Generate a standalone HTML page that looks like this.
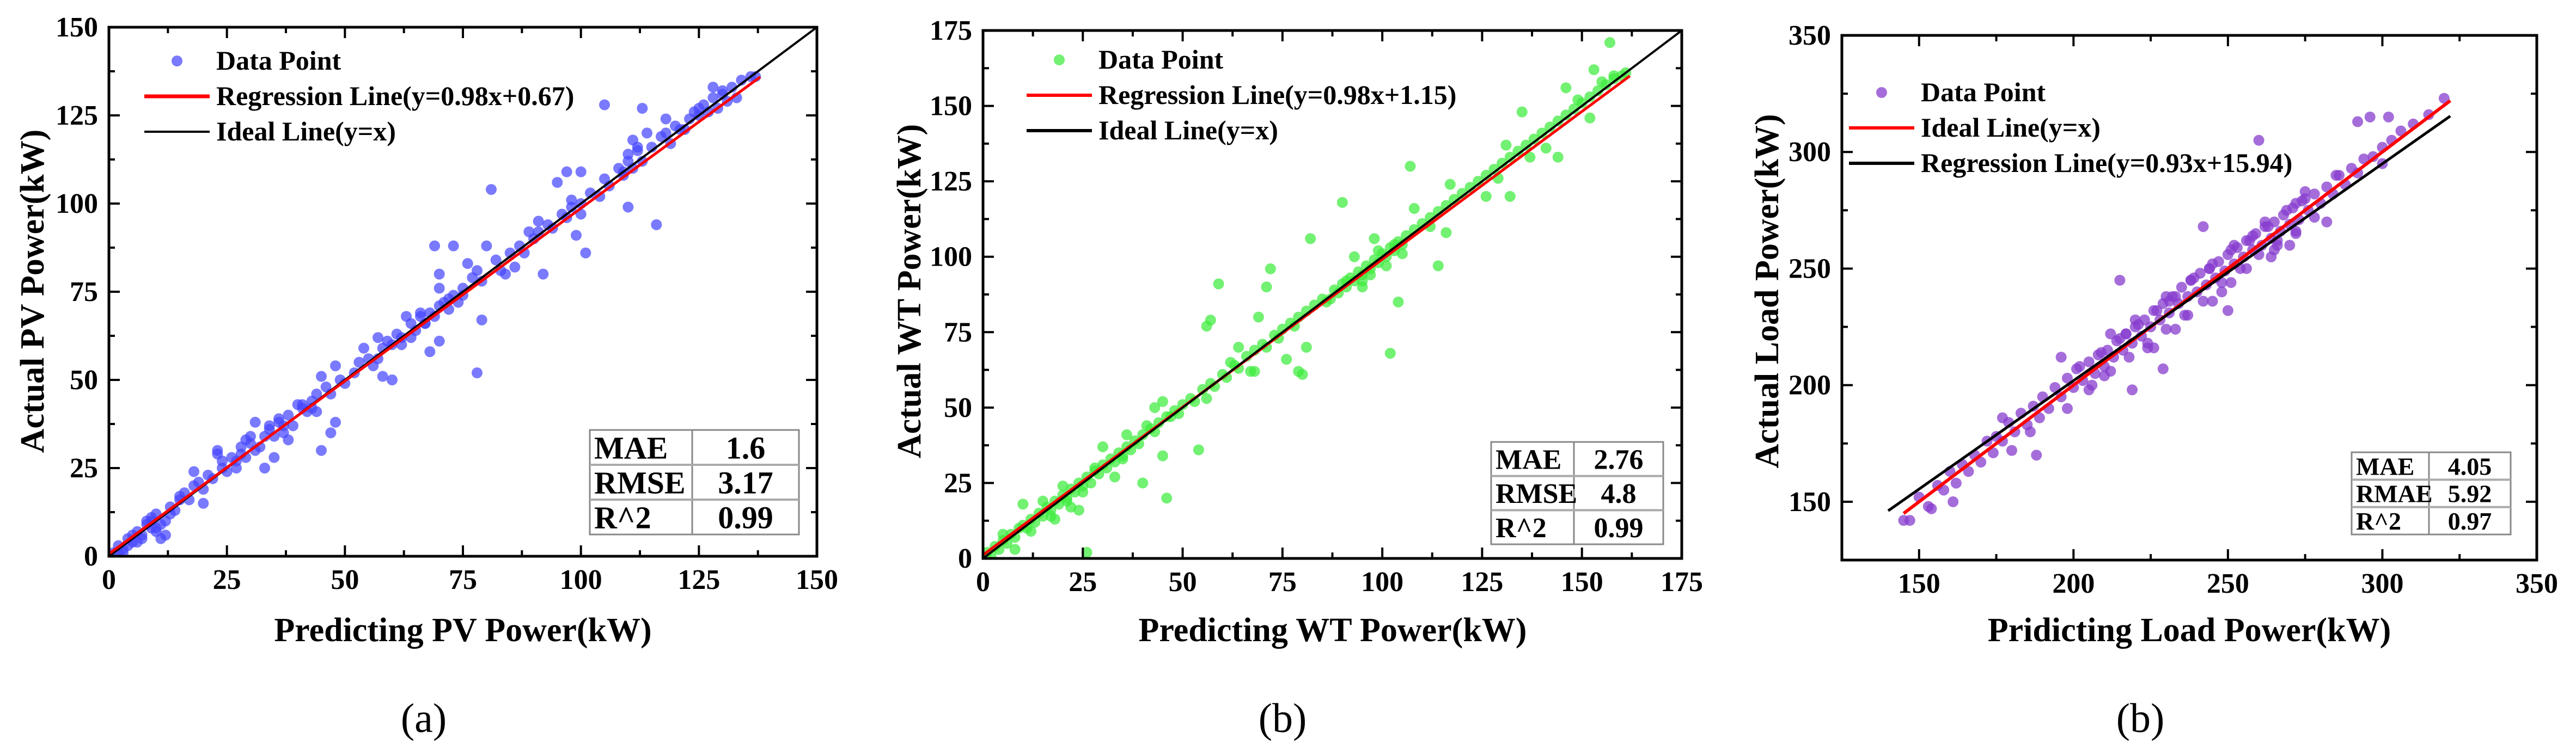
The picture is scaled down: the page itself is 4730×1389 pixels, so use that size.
<!DOCTYPE html>
<html><head><meta charset="utf-8"><style>
html,body{margin:0;padding:0;background:#fff;}
svg{display:block;font-family:"Liberation Serif","Times New Roman",serif;}
svg text{font-family:"Liberation Serif","Times New Roman",serif;}
</style></head><body>
<svg id="fig" width="4730" height="1389" viewBox="0 0 4730 1389" xmlns="http://www.w3.org/2000/svg" font-family="Liberation Serif, serif"></svg>
<script>
// ---------- data ----------
const aX=[1,2,3,4,5,6,7,8,9,10,11,12,11,9,13,14,15,16,17,19,20,21,22,24,25,26,27,28,29,30,31,32,33,34,35,36,37,38,39,40,41,42,43,44,46,47,49,50,52,53,55,56,58,59,60,61,62,64,65,66,67,68,69,71,72,73,74,75,77,78,79,82,83,85,87,88,90,91,93,94,96,97,98,100,102,104,105,106,108,109,110,111,112,113,115,117,118,119,120,122,123,124,125,126,127,128,129,130,131,132,134,136,137,
45,47,48,58,60,68,70,78,79,69,70,70,73,80,81,76,92,97,100,95,99,101,100,98,110,116,113,105,111,114,118,20,18,23,31,35,33,48,45,54,57,63,84,86,89,91,3,6,8,10,12,15,24,27,29,36,38,41,44,64,66,72,75,110,112,128,130,
2,4,5,7,9,10,13,18,23,28,30,34,37,43,57,62,67,70,109,121,125,133];
const aY=[1,3,2,5,4,7,6,9,8,12,9,6,5,11,14,13,16,18,16,21,19,23,22,25,24,28,27,31,28,32,30,31,34,36,34,38,35,40,37,43,42,41,44,46,48,46,50,49,52,55,56,54,59,61,60,63,62,66,64,68,66,69,68,72,70,74,72,76,79,81,78,84,81,86,88,86,90,92,94,93,97,96,101,100,103,102,107,105,110,108,112,110,115,112,116,119,120,117,122,121,124,126,125,128,126,130,127,132,129,133,135,136,136,
30,35,38,51,50,58,61,52,67,88,80,76,88,88,104,83,80,109,109,106,91,86,97,99,99,94,127,128,118,120,124,15,24,30,38,28,25,54,51,59,62,68,80,82,92,95,1,4,10,8,10,17,27,25,33,39,33,43,41,62,69,73,74,114,116,133,131,
1,3,6,5,10,7,12,20,29,29,34,37,37,42,56,60,66,71,109,121,127,130];
const bX=[1,2,3,4,5,6,7,8,9,10,11,12,13,14,15,16,17,18,19,20,21,22,23,24,25,26,28,29,30,31,32,33,34,35,36,37,38,39,40,42,43,44,46,48,49,50,52,53,55,57,58,60,61,63,64,66,68,70,71,73,74,75,77,78,79,81,83,85,86,88,89,90,91,92,93,94,95,96,97,98,99,100,101,102,103,104,105,106,108,110,112,114,116,118,120,122,124,126,128,130,132,134,136,138,140,142,144,146,148,150,152,154,156,158,160,161,
26,46,40,54,45,59,57,56,72,71,79,80,82,90,81,102,104,114,107,108,116,132,144,135,157,153,146,152,22,10,43,45,5,8,15,18,20,24,27,30,33,36,64,67,69,76,98,95,93,97,112,117,126,131,141,149,
12,17,21,25,28,35,41,47,56,62,68,87,91,95,99,101,103,105,129,137,155,158];
const bY=[2,1,4,3,6,5,8,7,10,11,10,13,12,15,14,17,16,19,18,21,20,23,22,25,24,27,29,28,31,30,33,32,35,34,37,36,39,38,41,43,42,45,47,49,48,51,53,52,56,58,57,61,60,64,63,67,69,71,70,74,73,76,78,77,80,82,84,86,85,89,88,91,90,93,92,95,94,97,96,99,98,101,100,103,102,105,104,107,109,111,113,115,117,119,121,123,125,127,129,131,133,135,137,139,141,143,145,147,149,151,153,155,157,159,160,161,
2,20,25,36,34,91,79,77,96,90,62,61,106,118,70,68,85,97,130,116,108,120,133,148,171,162,156,146,17,18,50,52,8,3,19,13,24,16,25,37,27,41,70,62,80,66,106,92,100,94,110,124,120,137,136,152,
9,14,19,22,30,33,44,47,53,65,62,86,92,90,102,97,104,101,126,133,158,160];
const cX=[145,150,153,156,158,160,162,164,166,168,170,172,174,175,177,179,181,183,185,187,189,190,192,194,196,198,200,201,203,205,207,208,210,211,213,214,216,217,219,220,222,223,225,226,228,229,231,232,234,235,237,238,240,241,243,244,246,247,249,250,252,253,255,256,258,259,261,262,264,265,267,268,270,271,273,274,276,278,280,282,284,286,288,290,292,294,297,300,303,306,310,315,320,
215,242,260,250,229,219,188,161,154,147,296,302,292,282,270,220,196,177,205,212,233,238,245,252,256,262,266,272,180,186,198,226,230,248,264,275,285,300,
202,206,209,212,215,218,221,224,227,230,233,236,239,242,245,248,251,254,257,260,263,266,269,272,275,278,210,217,224,231,237,244,251,258,265,272];
const cY=[142,152,148,157,155,163,158,166,163,170,167,176,171,178,176,184,180,188,183,191,186,195,190,199,195,203,199,207,202,210,205,213,208,215,212,219,215,222,218,225,221,228,225,232,228,235,231,238,235,242,238,245,240,248,243,250,246,253,249,256,252,259,255,262,258,265,260,268,263,270,266,273,269,276,271,279,275,282,278,285,282,290,286,293,291,297,298,302,305,309,312,316,323,
245,268,305,232,207,198,170,150,147,142,315,315,313,270,260,228,212,186,198,222,224,245,236,260,250,270,262,265,172,180,190,216,238,240,255,283,290,295,
208,200,214,206,220,212,226,218,232,224,238,230,246,236,252,244,258,250,262,256,268,260,275,266,280,272,204,222,216,236,230,250,244,264,258,278];
const aTicks=[0,25,50,75,100,125,150];
const bTicks=[0,25,50,75,100,125,150,175];
const cTicks=[150,200,250,300,350];
const aStats=[["MAE","1.6"],["RMSE","3.17"],["R^2","0.99"]];
const bStats=[["MAE","2.76"],["RMSE","4.8"],["R^2","0.99"]];
const cStats=[["MAE","4.05"],["RMAE","5.92"],["R^2","0.97"]];

const NS="http://www.w3.org/2000/svg";
const svg=document.getElementById('fig');
const FF='"Liberation Serif", "Times New Roman", serif';
function mk(tag,attrs,parent){const e=document.createElementNS(NS,tag);for(const k in attrs)e.setAttribute(k,attrs[k]);if(tag==='text')e.style.fontFamily=FF;(parent||svg).appendChild(e);return e;}

function panel(p){
  const g=mk('g',{});
  
  
  const sx=v=>p.L+(v-p.min)/(p.max-p.min)*(p.R-p.L);
  const sy=v=>p.B-(v-p.min)/(p.max-p.min)*(p.B-p.T);
  const clip=mk('clipPath',{id:'clip-'+p.name},g);
  mk('rect',{x:p.L,y:p.T,width:p.R-p.L,height:p.B-p.T},clip);
  const pts=mk('g',{'clip-path':'url(#clip-'+p.name+')'},g);
  
  
  for(let i=0;i<p.xs.length;i++){
    const c=mk('circle',{cx:sx(p.xs[i]),cy:sy(p.ys[i]),r:10,fill:p.color},pts);
    
    
  }
  const lines=mk('g',{'clip-path':'url(#clip-'+p.name+')'},g);
  for(const ln of p.lines){
    const l=mk('line',{x1:sx(ln.x0),y1:sy(ln.m*ln.x0+ln.b),x2:sx(ln.x1),y2:sy(ln.m*ln.x1+ln.b),stroke:ln.col,'stroke-width':ln.w},lines);
    
    
  }
  const fr=mk('rect',{x:p.L,y:p.T,width:p.R-p.L,height:p.B-p.T,fill:'none',stroke:'#000','stroke-width':5},g);
  
  
  const step=p.ticks[1]-p.ticks[0];
  for(let v=p.min;v<=p.max+0.01;v+=step/2){
    const major=p.ticks.some(t=>Math.abs(t-v)<0.01);
    const len=major?20:11;
    const X=sx(v),Y=sy(v);
    mk('line',{x1:X,y1:p.B,x2:X,y2:p.B-len,stroke:'#000','stroke-width':4},g);
    mk('line',{x1:X,y1:p.T,x2:X,y2:p.T+len,stroke:'#000','stroke-width':4},g);
    mk('line',{x1:p.L,y1:Y,x2:p.L+len,y2:Y,stroke:'#000','stroke-width':4},g);
    mk('line',{x1:p.R,y1:Y,x2:p.R-len,y2:Y,stroke:'#000','stroke-width':4},g);
  }
  for(const t of p.ticks){
    const xt=mk('text',{x:sx(t),y:p.B+60,'font-size':52,'font-weight':'bold','text-anchor':'middle'},g);
    xt.textContent=t;
    
    
    const yt=mk('text',{x:p.L-20,y:sy(t)+17,'font-size':52,'font-weight':'bold','text-anchor':'end'},g);
    yt.textContent=t;
    
    
  }
  const xtl=mk('text',{x:p.xtx,y:1178,'font-size':62,'font-weight':'bold','text-anchor':'middle'},g);
  xtl.textContent=p.xtitle;
  
  
  const ytl=mk('text',{x:0,y:0,'font-size':62,'font-weight':'bold','text-anchor':'middle',transform:'translate('+(p.ytx+20)+',535) rotate(-90)'},g);
  ytl.textContent=p.ytitle;
  
  
  const cap=mk('text',{x:p.capx,y:1345,'font-size':76,'text-anchor':'middle'},g);
  cap.textContent=p.cap;
  
  
  const lg=mk('g',{},g);
  
  
  p.legend.forEach((e,i)=>{
    const y=p.legY+i*65;
    if(e.t==='dot') mk('circle',{cx:p.legX+60,cy:y,r:10,fill:p.color},lg);
    else mk('line',{x1:p.legX,y1:y,x2:p.legX+120,y2:y,stroke:e.col,'stroke-width':e.w},lg);
    const tx=mk('text',{x:p.legX+132,y:y+16,'font-size':50,'font-weight':'bold'},lg);
    tx.textContent=e.label;
    
    
  });
  const tb=mk('g',{},g);
  
  
  const tw=p.tab.x2-p.tab.x1, th=p.tab.y2-p.tab.y1, rh=th/3;
  mk('rect',{x:p.tab.x1,y:p.tab.y1,width:tw,height:th,fill:'#fff',stroke:'#888','stroke-width':3},tb);
  mk('line',{x1:p.tab.xm,y1:p.tab.y1,x2:p.tab.xm,y2:p.tab.y2,stroke:'#888','stroke-width':3},tb);
  for(let i=1;i<3;i++) mk('line',{x1:p.tab.x1,y1:p.tab.y1+i*rh,x2:p.tab.x2,y2:p.tab.y1+i*rh,stroke:'#aaa','stroke-width':4},tb);
  p.stats.forEach((r,i)=>{
    const cy=p.tab.y1+rh*(i+0.5)+p.tab.fs*0.35;
    const a=mk('text',{x:p.tab.x1+8,y:cy,'font-size':p.tab.fs,'font-weight':'bold'},tb);
    a.textContent=r[0];
    
    
    const b=mk('text',{x:(p.tab.xm+p.tab.x2)/2,y:cy,'font-size':p.tab.fs,'font-weight':'bold','text-anchor':'middle'},tb);
    b.textContent=r[1];
    
    
  });
}

panel({name:'panel-a-pv',L:200,R:1500,T:50,B:1022,min:0,max:150,ticks:aTicks,xs:aX,ys:aY,color:'rgba(70,70,255,0.72)',
  lines:[{x0:0,x1:150,m:1,b:0,col:'#000',w:4,nm:'ideal-line'},{x0:0,x1:138,m:0.98,b:0.67,col:'#f00',w:5,nm:'regression-line'}],
  xtitle:'Predicting PV Power(kW)',ytitle:'Actual PV Power(kW)',xtx:850,ytx:60,cap:'(a)',capx:778,
  legX:265,legY:112,legend:[{t:'dot',label:'Data Point'},{t:'line',col:'#f00',w:7,label:'Regression Line(y=0.98x+0.67)'},{t:'line',col:'#000',w:4,label:'Ideal Line(y=x)'}],
  tab:{x1:1083,x2:1467,xm:1271,y1:790,y2:982,fs:58},stats:aStats});
panel({name:'panel-b-wt',L:1805,R:3088,T:56,B:1026,min:0,max:175,ticks:bTicks,xs:bX,ys:bY,color:'rgba(60,235,60,0.72)',
  lines:[{x0:0,x1:162,m:0.98,b:1.15,col:'#f00',w:5,nm:'regression-line'},{x0:0,x1:175,m:1,b:0,col:'#000',w:4,nm:'ideal-line'}],
  xtitle:'Predicting WT Power(kW)',ytitle:'Actual WT Power(kW)',xtx:2447,ytx:1670,cap:'(b)',capx:2355,
  legX:1885,legY:110,legend:[{t:'dot',label:'Data Point'},{t:'line',col:'#f00',w:6,label:'Regression Line(y=0.98x+1.15)'},{t:'line',col:'#000',w:6,label:'Ideal Line(y=x)'}],
  tab:{x1:2738,x2:3054,xm:2890,y1:812,y2:1000,fs:52},stats:bStats});
panel({name:'panel-c-load',L:3382,R:4658,T:65,B:1029,min:125,max:350,ticks:cTicks,xs:cX,ys:cY,color:'rgba(135,60,205,0.75)',
  lines:[{x0:145,x1:322,m:1,b:0,col:'#f00',w:6,nm:'ideal-line'},{x0:140,x1:322,m:0.93,b:15.94,col:'#000',w:5,nm:'regression-line'}],
  xtitle:'Pridicting Load Power(kW)',ytitle:'Actual Load Power(kW)',xtx:4020,ytx:3245,cap:'(b)',capx:3930,
  legX:3395,legY:170,legend:[{t:'dot',label:'Data Point'},{t:'line',col:'#f00',w:6,label:'Ideal Line(y=x)'},{t:'line',col:'#000',w:6,label:'Regression Line(y=0.93x+15.94)'}],
  tab:{x1:4318,x2:4610,xm:4460,y1:831,y2:982,fs:46},stats:cStats});
</script>
</body></html>
